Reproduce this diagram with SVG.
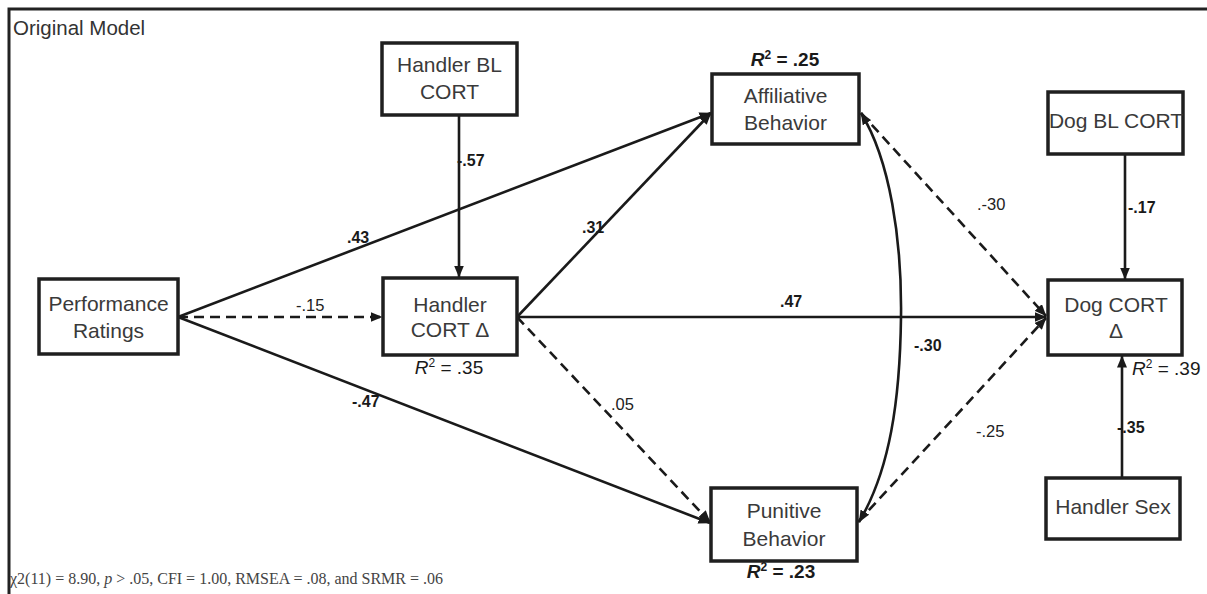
<svg xmlns="http://www.w3.org/2000/svg" width="1207" height="594" viewBox="0 0 1207 594">
  <defs>
    <marker id="ah" viewBox="0 0 12 10" refX="11.5" refY="5" markerUnits="userSpaceOnUse" markerWidth="12" markerHeight="10" orient="auto-start-reverse">
      <path d="M0,0 L12,5 L0,10 z" fill="#1a1a1a"/>
    </marker>
    <style>
      .box { fill: #fff; stroke: #1f1f1f; stroke-width: 3.5; }
      .nt { font-family: "Liberation Sans", Arial, sans-serif; font-size: 21px; fill: #3a3a3a; text-anchor: middle; }
      .ln { fill: none; stroke: #1a1a1a; stroke-width: 2.6; }
      .ar { marker-end: url(#ah); }
      .dash { stroke-dasharray: 10 6; }
      .lb { font-family: "Liberation Sans", Arial, sans-serif; font-size: 16px; font-weight: bold; fill: #1a1a1a; }
      .lr { font-family: "Liberation Sans", Arial, sans-serif; font-size: 16.5px; fill: #222; }
      .r2 { font-family: "Liberation Sans", Arial, sans-serif; font-size: 19px; fill: #1a1a1a; text-anchor: middle; }
    </style>
  </defs>
  <rect width="1207" height="594" fill="#fff"/>
  <path d="M9 594 L9 9 L1207 9" fill="none" stroke="#222" stroke-width="3"/>
  <text x="13" y="35" font-family="Liberation Sans, Arial, sans-serif" font-size="20.5" fill="#333">Original Model</text>

  <g id="connectors">
    <line class="ln ar" x1="459" y1="115" x2="459" y2="277"/>
    <line class="ln ar" x1="178" y1="317" x2="711" y2="113"/>
    <line class="ln ar dash" x1="178" y1="317" x2="382" y2="317"/>
    <line class="ln ar" x1="178" y1="317" x2="710" y2="523"/>
    <line class="ln ar" x1="517" y1="317" x2="711" y2="113"/>
    <line class="ln ar" x1="517" y1="317" x2="1046" y2="317"/>
    <line class="ln ar dash" x1="517" y1="317" x2="710" y2="522"/>
    <line class="ln ar dash" x1="861" y1="113" x2="1046" y2="316"/>
    <line class="ln ar dash" x1="858" y1="522" x2="1046" y2="318"/>
    <path class="ln" marker-start="url(#ah)" marker-end="url(#ah)" d="M861 113 C890 160 902 240 901 317 C900 400 890 470 859 522"/>
    <line class="ln ar" x1="1125" y1="154" x2="1125" y2="279"/>
    <line class="ln ar" x1="1122" y1="477" x2="1122" y2="356"/>
    <text class="lb" x="457" y="166">-.57</text>
    <text class="lb" x="347" y="243">.43</text>
    <text class="lr" x="296" y="311">-.15</text>
    <text class="lb" x="352" y="407">-.47</text>
    <text class="lb" x="582" y="233">.31</text>
    <text class="lb" x="780" y="307">.47</text>
    <text class="lr" x="611" y="410">.05</text>
    <text class="lb" x="914" y="351">-.30</text>
    <text class="lr" x="977" y="210">.-30</text>
    <text class="lr" x="976" y="437">-.25</text>
    <text class="lb" x="1128" y="213">-.17</text>
    <text class="lb" x="1117" y="433">-.35</text>
  </g>

  <g id="handler-bl-cort">
    <rect class="box" x="382" y="43" width="135" height="72"/>
    <text class="nt" x="449.5" y="72">Handler BL</text>
    <text class="nt" x="449.5" y="99">CORT</text>
  </g>
  <g id="affiliative-behavior">
    <rect class="box" x="712" y="74" width="147" height="70"/>
    <text class="nt" x="785.5" y="103">Affiliative</text>
    <text class="nt" x="785.5" y="130">Behavior</text>
    <text class="r2" x="785" y="66" font-weight="bold"><tspan font-style="italic">R</tspan><tspan font-size="12" dy="-7">2</tspan><tspan dy="7"> = .25</tspan></text>
  </g>
  <g id="dog-bl-cort">
    <rect class="box" x="1048" y="92" width="135" height="62"/>
    <text class="nt" x="1116" y="128">Dog BL CORT</text>
  </g>
  <g id="performance-ratings">
    <rect class="box" x="39" y="279" width="139" height="75"/>
    <text class="nt" x="108.5" y="311">Performance</text>
    <text class="nt" x="108.5" y="338">Ratings</text>
  </g>
  <g id="handler-cort">
    <rect class="box" x="383" y="278" width="134" height="77"/>
    <text class="nt" x="450" y="312">Handler</text>
    <text class="nt" x="450" y="337">CORT Δ</text>
    <text class="r2" x="449" y="374"><tspan font-style="italic">R</tspan><tspan font-size="12" dy="-7">2</tspan><tspan dy="7"> = .35</tspan></text>
  </g>
  <g id="dog-cort">
    <rect class="box" x="1048" y="280" width="134" height="75"/>
    <text class="nt" x="1116" y="312">Dog CORT</text>
    <text class="nt" x="1116" y="338">Δ</text>
    <text class="r2" x="1132" y="375" style="text-anchor:start"><tspan font-style="italic">R</tspan><tspan font-size="12" dy="-7">2</tspan><tspan dy="7"> = .39</tspan></text>
  </g>
  <g id="punitive-behavior">
    <rect class="box" x="711" y="488" width="146" height="73"/>
    <text class="nt" x="784" y="518">Punitive</text>
    <text class="nt" x="784" y="546">Behavior</text>
    <text class="r2" x="781" y="578" font-weight="bold"><tspan font-style="italic">R</tspan><tspan font-size="12" dy="-7">2</tspan><tspan dy="7"> = .23</tspan></text>
  </g>
  <g id="handler-sex">
    <rect class="box" x="1046" y="478" width="134" height="61"/>
    <text class="nt" x="1113" y="514">Handler Sex</text>
  </g>

  <text x="10" y="584" font-family="Liberation Serif, Times New Roman, serif" font-size="16" fill="#444">χ2(11) = 8.90, <tspan font-style="italic">p</tspan> &gt; .05, CFI = 1.00, RMSEA = .08, and SRMR = .06</text>
</svg>
